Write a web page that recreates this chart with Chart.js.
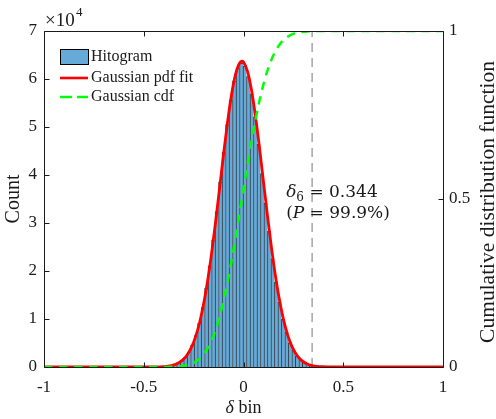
<!DOCTYPE html>
<html>
<head>
<meta charset="utf-8">
<script src="https://cdn.jsdelivr.net/npm/chart.js@4.4.0/dist/chart.umd.min.js"></script>
<style>
  html, body { margin: 0; padding: 0; background: #ffffff; }
  #wrap { width: 496px; height: 419px; }
</style>
</head>
<body>
<div id="wrap"><canvas id="chart" width="496" height="419"></canvas></div>
<script>
// Histogram of delta: bins start at binStart, each binWidth wide
const binStart = -0.405;
const binWidth = 0.0175;
const counts = [100, 180, 310, 520, 840, 1340, 2070, 3120, 4580, 6560, 9130, 12400,
  16400, 21100, 26500, 32400, 38600, 44700, 50500, 55600, 59600, 62200, 63300, 62700,
  60500, 56900, 52100, 46400, 40300, 34100, 28300, 22600, 17700, 13500, 10000, 7230,
  5090, 3490, 2330, 1520, 960, 590, 360, 210];

// Gaussian pdf fit (counts)
const pdfX = [-1, -0.6, -0.5, -0.45, -0.42, -0.40, -0.38, -0.36, -0.34, -0.32, -0.30, -0.28,
  -0.26, -0.24, -0.22, -0.20, -0.18, -0.16, -0.14, -0.12, -0.10, -0.08, -0.06, -0.04, -0.02,
  -0.008, 0.00, 0.02, 0.04, 0.06, 0.08, 0.10, 0.12, 0.14, 0.16, 0.18, 0.20, 0.22, 0.24, 0.26,
  0.28, 0.30, 0.32, 0.34, 0.36, 0.38, 0.40, 0.42, 0.45, 0.5, 0.6, 1];
const pdfY = [0, 0, 2, 15, 44, 88, 169, 314, 565, 982, 1647, 2671,
  4185, 6340, 9279, 13118, 17921, 23660, 30184, 37205, 44317, 51007, 56728, 60964, 63308,
  63700, 63525, 61595, 57709, 52245, 45705, 38636, 31557, 24909, 18997, 14002, 9970, 6859, 4562, 2930,
  1820, 1092, 633, 355, 192, 100, 51, 25, 8, 1, 0, 0];

// Gaussian cdf (right axis)
const cdfX = [-1, -0.5, -0.44, -0.40, -0.36, -0.32, -0.28, -0.26, -0.24, -0.22, -0.20, -0.18,
  -0.16, -0.14, -0.12, -0.10, -0.08, -0.06, -0.04, -0.02, 0.00, 0.02, 0.04, 0.06, 0.08, 0.10,
  0.12, 0.14, 0.16, 0.18, 0.20, 0.22, 0.24, 0.26, 0.28, 0.30, 0.32, 0.36, 0.40, 0.5, 1];
const cdfY = [0, 0, 0.00003, 0.00014, 0.00056, 0.0019, 0.0059, 0.0098, 0.0159, 0.0248, 0.0377, 0.0556,
  0.0797, 0.1108, 0.1499, 0.1971, 0.2525, 0.3152, 0.3836, 0.4558, 0.5295, 0.6023, 0.6716, 0.7356, 0.7924, 0.8413,
  0.8820, 0.9147, 0.9401, 0.9591, 0.9729, 0.9826, 0.9892, 0.9935, 0.9962, 0.9978, 0.9988, 0.9997, 0.9999, 1, 1];

// Threshold at the given coverage
const delta6 = 0.344;
const coverage = 99.9;

// Tick positions
const xTicks = [-1, -0.5, 0, 0.5, 1];
const yTicks = [0, 10000, 20000, 30000, 40000, 50000, 60000, 70000];
const y2Ticks = [0, 0.5, 1];

const legendNames = ['Hitogram', 'Gaussian pdf fit', 'Gaussian cdf'];

const SERIF = '"Liberation Serif", "Times New Roman", serif';
const INK = '#1a1a1a';
const BAR_FILL = 'rgb(102,170,215)';
const RED = '#ff0000';
const GREEN = '#00ff00';
const GREY = '#a6a6a6';

const histData = counts.map((c, i) => ({ x: binStart + (i + 0.5) * binWidth, y: c }));
const pdfData = pdfX.map((x, i) => ({ x, y: pdfY[i] }));
const cdfData = cdfX.map((x, i) => ({ x, y: cdfY[i] }));

// Frame and inward tick marks
const framePlugin = {
  id: 'frame',
  afterDatasetsDraw(chart) {
    const { ctx, chartArea: a, scales } = chart;
    const L = Math.round(a.left) + 0.5, R = Math.round(a.right) + 0.5;
    const T = Math.round(a.top) + 0.5, B = Math.round(a.bottom) + 0.5;
    ctx.save();
    ctx.strokeStyle = INK;
    ctx.lineWidth = 1;
    ctx.beginPath();
    ctx.rect(L, T, R - L, B - T);
    const len = 5;
    xTicks.forEach(v => {
      const px = Math.round(scales.x.getPixelForValue(v)) + 0.5;
      ctx.moveTo(px, B); ctx.lineTo(px, B - len);
      ctx.moveTo(px, T); ctx.lineTo(px, T + len);
    });
    yTicks.forEach(v => {
      const py = Math.round(scales.y.getPixelForValue(v)) + 0.5;
      ctx.moveTo(L, py); ctx.lineTo(L + len, py);
    });
    y2Ticks.forEach(v => {
      const py = Math.round(scales.y2.getPixelForValue(v)) + 0.5;
      ctx.moveTo(R, py); ctx.lineTo(R - len, py);
    });
    ctx.stroke();
    ctx.restore();
  }
};

// Axis titles, exponent, legend and annotation
const textPlugin = {
  id: 'texts',
  afterDraw(chart) {
    const { ctx, chartArea: a, scales } = chart;
    const midY = (a.top + a.bottom) / 2;
    ctx.save();
    ctx.fillStyle = INK;
    ctx.textBaseline = 'middle';

    // exponent
    ctx.textAlign = 'left';
    ctx.font = '19px ' + SERIF;
    ctx.fillText('\u00d710', 45, 21);
    ctx.font = '13px ' + SERIF;
    ctx.fillText('4', 76, 13);

    // left title
    ctx.save();
    ctx.translate(14, midY);
    ctx.rotate(-Math.PI / 2);
    ctx.textAlign = 'center';
    ctx.font = '20px ' + SERIF;
    ctx.fillText('Count', 0, 0);
    ctx.restore();

    // right title
    ctx.save();
    ctx.translate(488, midY + 3);
    ctx.rotate(-Math.PI / 2);
    ctx.textAlign = 'center';
    ctx.font = '21.5px ' + SERIF;
    ctx.fillText('Cumulative distribution function', 0, 0);
    ctx.restore();

    // bottom title: italic delta + " bin"
    {
      const cx = (a.left + a.right) / 2;
      ctx.font = 'italic 18px ' + SERIF;
      const w1 = ctx.measureText('\u03b4').width;
      ctx.font = '18px ' + SERIF;
      const w2 = ctx.measureText(' bin').width;
      let x0 = cx - (w1 + w2) / 2;
      ctx.textAlign = 'left';
      ctx.font = 'italic 18px ' + SERIF;
      ctx.fillText('\u03b4', x0, 408);
      ctx.font = '18px ' + SERIF;
      ctx.fillText(' bin', x0 + w1, 408);
    }

    // legend
    ctx.textAlign = 'left';
    ctx.font = '16px ' + SERIF;
    const lx = 60, lw = 28;
    const rows = [57, 78, 97];
    ctx.fillStyle = BAR_FILL;
    ctx.fillRect(lx + 0.5, 49.5, lw, 15);
    ctx.strokeStyle = '#000';
    ctx.lineWidth = 1;
    ctx.strokeRect(lx + 0.5, 49.5, lw, 15);
    ctx.lineWidth = 2.6;
    ctx.strokeStyle = RED;
    ctx.beginPath(); ctx.moveTo(lx, rows[1]); ctx.lineTo(lx + lw, rows[1]); ctx.stroke();
    ctx.strokeStyle = GREEN;
    ctx.setLineDash([12, 5]);
    ctx.beginPath(); ctx.moveTo(lx, rows[2]); ctx.lineTo(lx + lw, rows[2]); ctx.stroke();
    ctx.setLineDash([]);
    ctx.fillStyle = INK;
    legendNames.forEach((t, i) => ctx.fillText(t, lx + lw + 3, rows[i]));

    // annotation next to the threshold line
    const ANN = '"DejaVu Serif", serif';
    const tx = scales.x.getPixelForValue(delta6) - 26;
    const y1 = scales.y2.getPixelForValue(0.518);
    const y2 = scales.y2.getPixelForValue(0.458);
    let x = tx;
    ctx.font = 'italic 17px ' + ANN;
    ctx.fillText('\u03b4', x, y1); x += ctx.measureText('\u03b4').width;
    ctx.font = '12px ' + ANN;
    ctx.fillText('6', x, y1 + 5); x += ctx.measureText('6').width;
    ctx.font = '17px ' + ANN;
    ctx.fillText(' = ' + delta6.toFixed(3), x, y1);
    x = tx;
    ctx.fillText('(', x, y2); x += ctx.measureText('(').width;
    ctx.font = 'italic 17px ' + ANN;
    ctx.fillText('P', x, y2); x += ctx.measureText('P').width;
    ctx.font = '17px ' + ANN;
    ctx.fillText(' = ' + coverage.toFixed(1) + '%)', x, y2);

    ctx.restore();
  }
};

const tickFont = { family: SERIF, size: 17 };

new Chart(document.getElementById('chart'), {
  type: 'bar',
  data: {
    datasets: [
      {
        type: 'line', label: legendNames[2], data: cdfData, yAxisID: 'y2', order: 1,
        borderColor: GREEN, borderWidth: 2.5, borderDash: [8.5, 6.5], pointRadius: 0,
        cubicInterpolationMode: 'monotone', fill: false
      },
      {
        type: 'line', label: legendNames[1], data: pdfData, yAxisID: 'y', order: 2,
        borderColor: RED, borderWidth: 2.8, pointRadius: 0,
        cubicInterpolationMode: 'monotone', fill: false
      },
      {
        type: 'line', label: 'threshold', data: [{ x: delta6, y: 0 }, { x: delta6, y: 70000 }],
        yAxisID: 'y', order: 3, borderColor: GREY, borderWidth: 1.5, borderDash: [9, 6],
        pointRadius: 0, fill: false
      },
      {
        type: 'bar', label: legendNames[0], data: histData, yAxisID: 'y', order: 4,
        backgroundColor: BAR_FILL, borderColor: 'rgba(20,35,50,0.9)',
        borderWidth: { left: 1, top: 1, right: 0, bottom: 0 }, borderSkipped: false,
        barPercentage: 1, categoryPercentage: 1, grouped: false
      }
    ]
  },
  options: {
    responsive: false,
    animation: false,
    layout: { padding: { top: 31, left: 0, right: 0, bottom: 0 } },
    plugins: { legend: { display: false }, tooltip: { enabled: false } },
    scales: {
      x: {
        type: 'linear', min: -1, max: 1, offset: false,
        grid: { display: false, drawTicks: false },
        border: { display: false },
        afterBuildTicks: s => { s.ticks = xTicks.map(v => ({ value: v })); },
        afterFit: s => { s.height = 52; },
        ticks: { font: tickFont, color: INK, padding: 10, maxRotation: 0,
          callback: v => String(v) }
      },
      y: {
        type: 'linear', position: 'left', min: 0, max: 70000,
        grid: { display: false, drawTicks: false },
        border: { display: false },
        afterBuildTicks: s => { s.ticks = yTicks.map(v => ({ value: v })); },
        afterFit: s => { s.width = 44; },
        ticks: { font: tickFont, color: INK, padding: 7, callback: v => String(v / 10000) }
      },
      y2: {
        type: 'linear', position: 'right', min: 0, max: 1,
        grid: { display: false, drawTicks: false },
        border: { display: false },
        afterBuildTicks: s => { s.ticks = y2Ticks.map(v => ({ value: v })); },
        afterFit: s => { s.width = 53; },
        ticks: { font: tickFont, color: INK, padding: 6, callback: v => String(v) }
      }
    }
  },
  plugins: [framePlugin, textPlugin]
});
</script>
</body>
</html>
